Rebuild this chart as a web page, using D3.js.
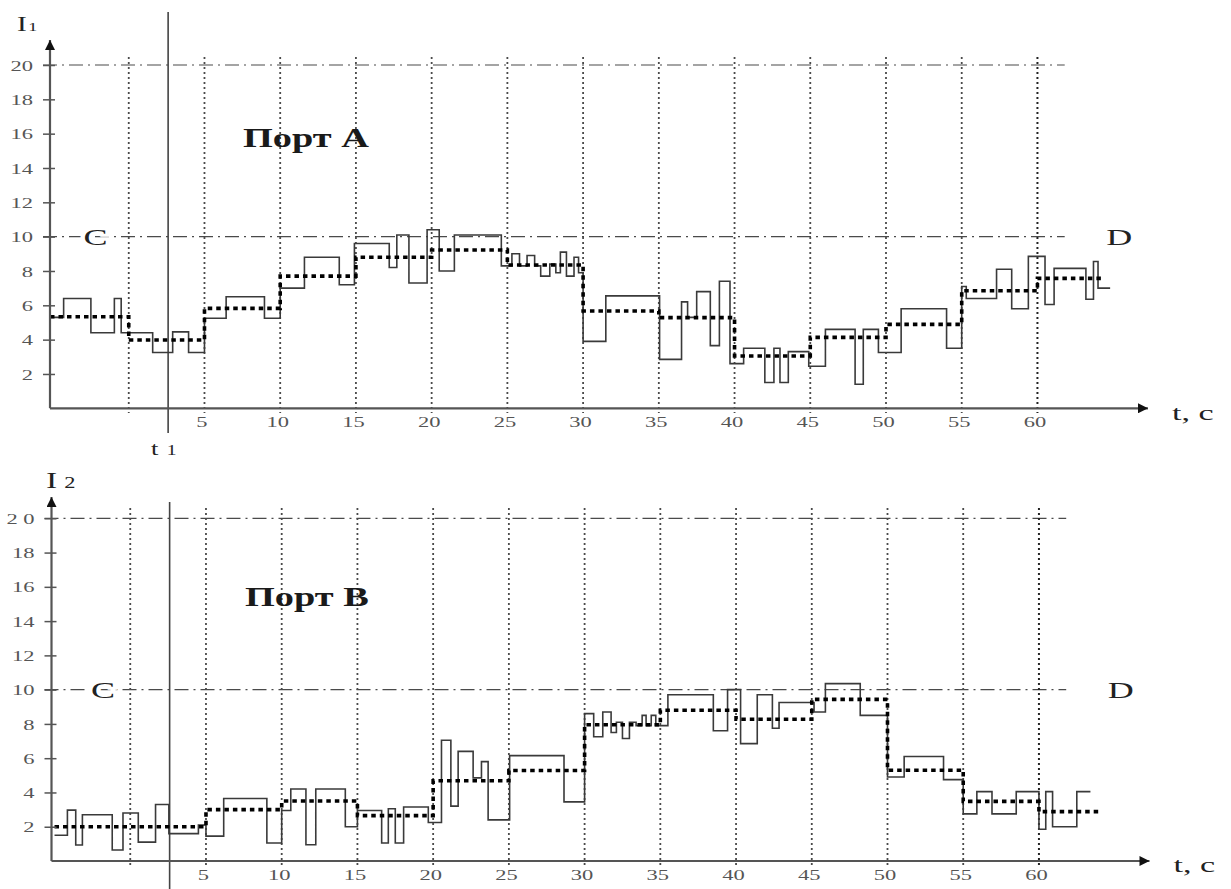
<!DOCTYPE html>
<html>
<head>
<meta charset="utf-8">
<script src="https://cdn.jsdelivr.net/npm/d3@7"></script>
<style>
  body { margin: 0; background: #fff; }
  svg { display: block; }
</style>
</head>
<body>
<div id="chart"></div>
<script>
// ---- data ----
const gridTimes = d3.range(0, 61, 5);
const tickTimes = d3.range(5, 61, 5);
const yTicks = d3.range(2, 21, 2);
const refLevels = [20, 10];
const refEnd = 61.8;
const t1 = 2.6;

// port A, raw signal (step start times, last entry = end time)
const rawA_t = [-5.2, -4.3, -2.5, -0.95, -0.5, 1.58, 2.9, 3.95, 5.0, 6.43, 8.96, 10.0, 11.6, 13.9, 14.9,
  17.2, 17.7, 18.5, 19.7, 20.5, 21.5, 24.6, 25.3, 25.8, 26.3, 26.8, 27.2, 27.8, 28.2, 28.5, 28.9, 29.4, 29.7,
  30.0, 31.5, 35.05, 36.5, 36.9, 37.5, 38.4, 39.0, 39.7, 40.6, 42.0, 42.6, 43.0, 43.55, 44.9, 46.0, 47.96,
  48.5, 49.5, 51.0, 54.0, 55.0, 55.3, 57.3, 58.3, 59.4, 60.5, 61.1, 63.2, 63.7, 64.0, 64.8];
const rawA_v = [5.3, 6.4, 4.4, 6.4, 4.4, 3.25, 4.45, 3.25, 5.25, 6.5, 5.25, 7.0, 8.8, 7.2, 9.6,
  8.2, 10.1, 7.3, 10.4, 8.0, 10.1, 8.3, 9.0, 8.3, 8.9, 8.3, 7.7, 8.4, 7.9, 9.1, 7.7, 8.8, 7.9,
  3.9, 6.55, 2.85, 6.2, 5.3, 6.8, 3.65, 7.4, 2.6, 3.5, 1.5, 3.5, 1.5, 3.3, 2.45, 4.6, 1.4,
  4.6, 3.25, 5.8, 3.5, 7.1, 6.4, 8.1, 5.8, 8.85, 6.05, 8.15, 6.35, 8.55, 7.0];

// port A, averaged level
const avgA_t = [-5.2, 0, 5, 10, 15, 20, 25, 30, 35, 40, 45, 50, 55, 60, 64.4];
const avgA_v = [5.33, 3.98, 5.82, 7.7, 8.8, 9.22, 8.35, 5.67, 5.28, 3.05, 4.13, 4.89, 6.85, 7.57];

// port B, raw signal
const rawB_t = [-5.0, -4.15, -3.6, -3.16, -1.19, -0.48, 0.53, 1.67, 2.55, 4.5, 5.0, 6.17, 9.02, 10.0, 10.6,
  11.6, 12.25, 14.2, 15.0, 16.6, 17.04, 17.5, 18.05, 19.68, 20.55, 21.17, 21.65, 22.64, 23.19, 23.63, 25.05,
  28.64, 30.0, 30.6, 31.2, 31.75, 32.1, 32.5, 32.96, 33.4, 33.8, 34.06, 34.4, 34.7, 35.5, 38.5, 39.44,
  40.3, 41.4, 42.4, 42.84, 45.15, 45.9, 48.2, 50.0, 51.1, 53.7, 55.0, 55.9, 56.9, 58.5, 60.0, 60.45,
  60.9, 62.5, 63.4];
const rawB_v = [1.5, 2.97, 0.93, 2.7, 0.64, 2.8, 1.1, 3.3, 1.6, 2.1, 1.45, 3.65, 1.05, 2.95, 4.2,
  0.95, 4.2, 2.0, 2.95, 1.05, 3.05, 1.05, 3.15, 2.25, 7.05, 3.2, 6.4, 4.85, 5.8, 2.4, 6.15,
  3.45, 8.6, 7.25, 8.7, 7.5, 8.1, 7.15, 8.1, 7.9, 8.5, 7.9, 8.5, 7.9, 9.7, 7.6, 10.0,
  6.85, 9.7, 7.75, 9.25, 8.7, 10.35, 8.5, 4.9, 6.1, 4.75, 2.75, 4.05, 2.75, 4.05, 1.85, 4.05,
  2.0, 4.05];

// port B, averaged level
const avgB_t = [-5.0, 5, 10, 15, 20, 25, 30, 35, 40, 45, 50, 55, 60, 64.0];
const avgB_v = [2.0, 3.0, 3.5, 2.65, 4.68, 5.28, 7.95, 8.8, 8.27, 9.43, 5.3, 3.48, 2.88];

// ---- layout ----
const W = 1231, H = 889;
const SX = 1.5; // the picture is stretched horizontally, the text too
const serif = "'Liberation Serif', 'DejaVu Serif', serif";

const panels = [
  { title: "Порт А", sub: "1", rawT: rawA_t, rawV: rawA_v, avgT: avgA_t, avgV: avgA_v,
    y0: 408.3, y20: 65, dx: 0, axisTop: 40, gridTop: 57, gridBottom: 413, t1Top: 12, t1Bottom: 433,
    titlePos: [243, 147], iPos: [17, 31], cX: -2.2, showT1: true, ticks20: "20" },
  { title: "Порт В", sub: "2", rawT: rawB_t, rawV: rawB_v, avgT: avgB_t, avgV: avgB_v,
    y0: 861, y20: 518.3, dx: 1.5, axisTop: 497, gridTop: 508, gridBottom: 866, t1Top: 502, t1Bottom: 889,
    titlePos: [245, 606], iPos: [46, 488], cX: -1.8, showT1: false, ticks20: "2 0" }
];

const svg = d3.select("#chart").append("svg")
  .attr("width", W).attr("height", H)
  .attr("viewBox", `0 0 ${W} ${H}`);

const defs = svg.append("defs");
defs.append("marker")
  .attr("id", "arrX").attr("viewBox", "0 0 10 10")
  .attr("refX", 10).attr("refY", 5)
  .attr("markerUnits", "userSpaceOnUse")
  .attr("markerWidth", 15).attr("markerHeight", 10)
  .attr("orient", "auto")
  .append("path").attr("d", "M0,0L10,5L0,10z").attr("fill", "#111");
defs.append("marker")
  .attr("id", "arrY").attr("viewBox", "0 0 10 10")
  .attr("refX", 10).attr("refY", 5)
  .attr("markerUnits", "userSpaceOnUse")
  .attr("markerWidth", 13).attr("markerHeight", 10)
  .attr("orient", "auto")
  .append("path").attr("d", "M0,0L10,5L0,10z").attr("fill", "#111");

function stepPoints(ts, vs) {
  const pts = vs.map((v, i) => [ts[i], v]);
  pts.push([ts[ts.length - 1], vs[vs.length - 1]]);
  return pts;
}

// stretched text helper
function label(g, x, y, txt, size, opts = {}) {
  const t = g.append("text")
    .attr("transform", `translate(${x},${y}) scale(${opts.sx || SX},1)`)
    .attr("text-anchor", opts.anchor || "start")
    .attr("font-family", serif)
    .attr("font-size", size)
    .attr("font-weight", opts.bold ? "bold" : "normal")
    .attr("fill", opts.fill || "#222")
    .text(txt);
  if (opts.halo) {
    t.attr("stroke", "#fff").attr("stroke-width", 6).attr("paint-order", "stroke");
  }
  return t;
}

panels.forEach(p => {
  const g = svg.append("g");

  const x = d3.scaleLinear().domain([-5.2, 67.3]).range([50 + p.dx, 1148 + p.dx]);
  const y = d3.scaleLinear().domain([0, 20]).range([p.y0, p.y20]);
  const axisX = x.range()[0];

  // dash-dot reference levels
  g.selectAll(".ref").data(refLevels).join("line")
    .attr("x1", axisX - 7).attr("x2", x(refEnd))
    .attr("y1", d => y(d)).attr("y2", d => y(d))
    .attr("stroke", "#4a4a4a").attr("stroke-width", 1.2)
    .attr("stroke-dasharray", "14,5,2,5");

  // vertical dotted grid
  g.selectAll(".vgrid").data(gridTimes).join("line")
    .attr("x1", d => x(d)).attr("x2", d => x(d))
    .attr("y1", p.gridTop).attr("y2", p.gridBottom)
    .attr("stroke", d => d === 60 ? "#222" : "#4a4a4a")
    .attr("stroke-width", d => d === 60 ? 2 : 1.8)
    .attr("stroke-dasharray", "2,3");

  // t1 marker line
  g.append("line")
    .attr("x1", x(t1)).attr("x2", x(t1))
    .attr("y1", p.t1Top).attr("y2", p.t1Bottom)
    .attr("stroke", "#444").attr("stroke-width", 1.6);

  // raw step signal
  const line = d3.line().x(d => x(d[0])).y(d => y(d[1])).curve(d3.curveStepAfter);
  g.append("path")
    .datum(stepPoints(p.rawT, p.rawV))
    .attr("d", line)
    .attr("fill", "none").attr("stroke", "#3a3a3a").attr("stroke-width", 1.6);

  // averaged level, bold dotted
  g.append("path")
    .datum(stepPoints(p.avgT, p.avgV))
    .attr("d", line)
    .attr("fill", "none").attr("stroke", "#000").attr("stroke-width", 3.6)
    .attr("stroke-dasharray", "4.5,4");

  // y axis
  const ya = g.append("g")
    .attr("transform", `translate(${axisX},0)`)
    .call(d3.axisLeft(y).tickValues(yTicks).tickSize(7)
      .tickFormat(d => d === 20 ? p.ticks20 : d));
  ya.select(".domain").remove();
  ya.selectAll(".tick line").attr("x1", 5).attr("stroke", "#555").attr("stroke-width", 1.5);
  ya.selectAll(".tick text")
    .attr("x", null).attr("dy", "0.34em")
    .attr("transform", `translate(-17,0) scale(${SX},1)`)
    .attr("font-family", serif).attr("font-size", 15)
    .attr("fill", "#555").attr("text-anchor", "end");

  // x axis
  const xa = g.append("g")
    .attr("transform", `translate(0,${y(0)})`)
    .call(d3.axisBottom(x).tickValues(tickTimes).tickSize(0));
  xa.select(".domain").remove();
  xa.selectAll(".tick text")
    .attr("y", null).attr("dy", null)
    .attr("transform", `translate(-3,19) scale(${SX},1)`)
    .attr("font-family", serif).attr("font-size", 15)
    .attr("fill", "#555").attr("text-anchor", "middle");

  // axis lines with arrows
  g.append("path")
    .attr("d", `M${axisX},${y(0)}L${axisX},${p.axisTop}`)
    .attr("stroke", "#555").attr("stroke-width", 2.2).attr("fill", "none")
    .attr("marker-end", "url(#arrY)");
  g.append("path")
    .attr("d", `M${axisX},${y(0)}L${x.range()[1]},${y(0)}`)
    .attr("stroke", "#555").attr("stroke-width", 2.2).attr("fill", "none")
    .attr("marker-end", "url(#arrX)");

  // texts
  label(g, p.titlePos[0], p.titlePos[1], p.title, 27, { bold: true, sx: 1.42, fill: "#1a1a1a" });
  label(g, x(p.cX), y(10) + 8, "C", 24, { anchor: "middle", halo: true });
  label(g, x(65.4), y(10) + 8, "D", 24, { anchor: "middle", halo: true });

  const it = label(g, p.iPos[0], p.iPos[1], "I", p.sub === "1" ? 21 : 24, { sx: 1.4 });
  it.append("tspan").attr("font-size", p.sub === "1" ? 13 : 16)
    .attr("dx", p.sub === "1" ? 1 : 5).text(p.sub);

  label(g, 1172 + p.dx, y(0) + (p.sub === "1" ? 12 : 11), "t, с", 22, { sx: 1.55 });

  if (p.showT1) {
    const tl = label(g, 151, 455, "t", 19, { sx: 1.4 });
    tl.append("tspan").attr("font-size", 14).attr("dx", 6).text("1");
  }
});
</script>
</body>
</html>
